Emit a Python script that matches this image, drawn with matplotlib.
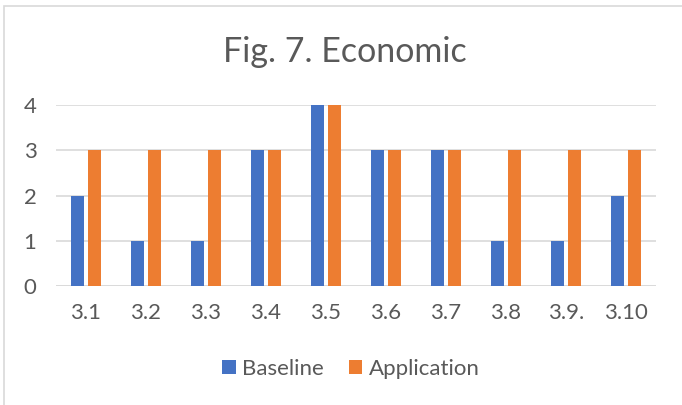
import matplotlib
matplotlib.use("Agg")
import matplotlib.pyplot as plt
from matplotlib.patches import Rectangle
import numpy as np

categories = ["3.1", "3.2", "3.3", "3.4", "3.5", "3.6", "3.7", "3.8", "3.9.", "3.10"]
baseline = [2, 1, 1, 3, 4, 3, 3, 1, 1, 2]
application = [3, 3, 3, 3, 4, 3, 3, 3, 3, 3]

plt.rcParams["font.family"] = ["Lato", "DejaVu Sans"]
text_color = "#595959"
blue = "#4472C4"
orange = "#ED7D31"
grid_color = "#D9D9D9"

fig = plt.figure(figsize=(6.82, 4.05), dpi=100)
fig.patch.set_facecolor("white")

# chart frame
fig.add_artist(Rectangle((4 / 682, -0.01), 1.0, 1 - 6 / 405 + 0.01,
                         transform=fig.transFigure, fill=False,
                         edgecolor=grid_color, linewidth=1.2))

ax = fig.add_axes([56 / 682, 1 - 286 / 405, 600 / 682, 181 / 405])
x = np.arange(len(categories))
w = 0.22
off = 0.145
ax.bar(x - off, baseline, width=w, color=blue, label="Baseline", zorder=3)
ax.bar(x + off, application, width=w, color=orange, label="Application", zorder=3)

ax.set_xlim(-0.5, len(categories) - 0.5)
ax.set_ylim(0, 4)
ax.set_yticks(range(0, 5))
ax.yaxis.grid(True, color=grid_color, linewidth=1.2, zorder=0)
ax.set_xticks(x)
ax.set_xticklabels(categories)
for s in ax.spines.values():
    s.set_visible(False)
ax.tick_params(axis="both", length=0, colors=text_color, labelsize=16)
ax.tick_params(axis="x", pad=12)
ax.tick_params(axis="y", pad=14)
ax.axhline(0, color=grid_color, linewidth=1.2, zorder=2)

fig.text(345 / 682, 1 - 52 / 405, "Fig. 7. Economic", ha="center", va="center",
         fontsize=24.5, color=text_color)

leg = fig.legend(loc="center", bbox_to_anchor=(351 / 682, 1 - 369 / 405),
                 ncol=2, frameon=False, fontsize=16, handlelength=0.6,
                 handleheight=0.6, columnspacing=1.1, handletextpad=0.3)
for t in leg.get_texts():
    t.set_color(text_color)

fig.savefig("out.png", dpi=100, facecolor="white")
